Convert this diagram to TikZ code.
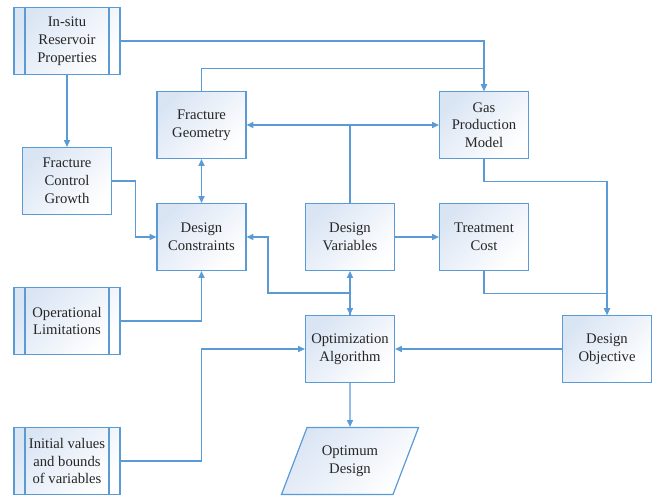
\documentclass[tikz,border=0pt]{standalone}
\usepackage{fontspec}
\setmainfont{Liberation Serif}
\usepackage{tikz}
\usetikzlibrary{arrows.meta,shapes.geometric}

\definecolor{edgeblue}{RGB}{91,155,213}
\definecolor{shadeblue}{RGB}{218,229,244}

\begin{document}
\begin{tikzpicture}[
  x=0.75pt, y=-0.75pt,
  box/.style={draw=edgeblue, line width=0.9pt, top color=shadeblue, bottom color=white, shading angle=45,
    align=center, minimum width=66.75pt, minimum height=50.25pt, inner sep=2pt,
    font=\fontsize{11}{13.3}\selectfont, text=black!85},
  predef/.style={box, minimum width=79.5pt,
    path picture={
      \draw[edgeblue, line width=0.9pt] ([xshift=8.25pt]path picture bounding box.north west) -- ([xshift=8.25pt]path picture bounding box.south west);
      \draw[edgeblue, line width=0.9pt] ([xshift=-8.25pt]path picture bounding box.north east) -- ([xshift=-8.25pt]path picture bounding box.south east);
    }},
  iobox/.style={box, trapezium, trapezium left angle=63, trapezium right angle=117,
    trapezium stretches=true, minimum width=103.5pt},
  arr/.style={-{Triangle[length=5pt,width=4.5pt]}, draw=edgeblue, line width=0.9pt},
  arrb/.style={arr, {Triangle[length=5pt,width=4.5pt]}-{Triangle[length=5pt,width=4.5pt]}}
]
\useasboundingbox (0,0) rectangle (656,496);

% inputs on the left
\node[predef] (insitu) at (67,41) {In-situ\\Reservoir\\Properties};
\node[box] (fcg) at (67,181) {Fracture\\Control\\Growth};
\node[predef] (oplim) at (67,321) {Operational\\Limitations};
\node[predef] (init) at (67,461) {Initial values\\and bounds\\of variables};

% middle columns
\node[box] (geom) at (201.5,125) {Fracture\\Geometry};
\node[box] (constr) at (201.5,237) {Design\\Constraints};
\node[box] (vars) at (350,237) {Design\\Variables};
\node[box] (optalg) at (350,349) {Optimization\\Algorithm};
\node[iobox] (optdes) at (350,461) {Optimum\\Design};

% right side
\node[box] (gas) at (484,125) {Gas\\Production\\Model};
\node[box] (cost) at (484,237) {Treatment\\Cost};
\node[box] (obj) at (607,349) {Design\\Objective};

% connectors (y grows downwards, so a negative step goes up)
\draw[arr] (insitu.east) -| (gas.north);
\draw[arr] (insitu.south) -- (fcg.north);
\draw[arr] (geom.north) -- ++(0,-22.5) -| (gas.north);
\draw[arr] (vars.north) |- (geom.east);
\draw[arr] (vars.north) |- (gas.west);
\draw[arrb] (geom.south) -- (constr.north);
\draw[arr] (fcg.east) -- ++(23,0) |- (constr.west);
\draw[arrb] (optalg.north) -- (vars.south);
\draw[arr] (optalg.north) -- ++(0,-22) -- ++(-82,0) |- (constr.east);
\draw[arr] (oplim.east) -| (constr.south);
\draw[arr] (init.east) -- ++(81,0) |- (optalg.west);
\draw[arr] (vars.east) -- (cost.west);
\draw[arr] (gas.south) -- ++(0,22.5) -| (obj.north);
\draw[arr] (cost.south) -- ++(0,22.5) -| (obj.north);
\draw[arr] (obj.west) -- (optalg.east);
\draw[arr] (optalg.south) -- (optdes.north);
\end{tikzpicture}
\end{document}
